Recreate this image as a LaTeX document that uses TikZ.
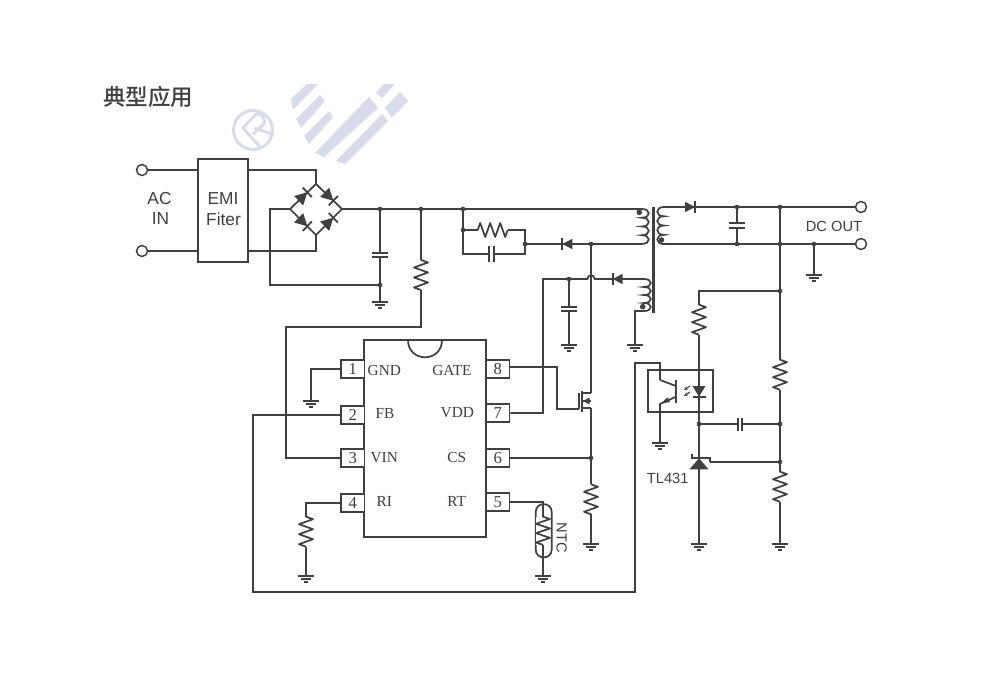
\documentclass[tikz,border=0pt]{standalone}
\usepackage{fontspec}
\setmainfont{Liberation Serif}
\newfontfamily\sansf{Liberation Sans}
\newfontfamily\cjkf{Noto Sans CJK SC Medium}
\usetikzlibrary{arrows.meta}
\definecolor{ink}{HTML}{404040}
\definecolor{wm}{HTML}{D8DBEA}
\tikzset{
  wire/.style={draw=ink,line width=1.3pt,line join=miter},
  term/.style={circle,draw=ink,line width=1.1pt,minimum size=8.25pt,inner sep=0pt,fill=white},
  pinbox/.style={draw=ink,line width=1.2pt,fill=white,minimum width=17.6pt,minimum height=13.5pt,inner sep=0pt,font=\fontsize{12.5}{14}\selectfont,text=ink},
  pinlabel/.style={inner sep=0pt,font=\fontsize{11.5}{13}\selectfont,text=ink},
  sanslabel/.style={inner sep=0pt,font=\sansf\fontsize{13}{15}\selectfont,text=ink},
  smalllabel/.style={inner sep=0pt,font=\sansf\fontsize{11}{13}\selectfont,text=ink},
  soft/.style={fill=wm,draw=none},
  pics/gnd/.style={code={
    \draw[draw=ink,line width=1.2pt] (-8,0)--(8,0) (-5,3)--(5,3) (-2,6)--(2,6);}},
  pics/resv/.style={code={
    \fill[white] (-7,-15) rectangle (7,15);
    \draw[wire,line join=round] (0,-15)--(7,-12.5)--(-7,-7.5)--(7,-2.5)--(-7,2.5)--(7,7.5)--(-7,12.5)--(0,15);}},
  pics/capv/.style={code={
    \fill[white] (-8,-2.3) rectangle (8,2.3);
    \draw[wire] (-8,-2.3)--(8,-2.3) (-8,2.3)--(8,2.3);}},
  pics/diode/.style={code={
    \fill[ink] (-5,-5.2)--(5,0)--(-5,5.2)--cycle;
    \draw[wire] (5,-6)--(5,6);}},
  pics/bdiode/.style={code={
    \fill[ink] (-6,-6.5)--(6,0)--(-6,6.5)--cycle;
    \draw[wire] (6,-6.5)--(6,6.5);}},
  pics/coil/.style={code={
    \draw[wire] (0,0) .. controls (9,0) and (9,9) .. (0,9)
      .. controls (9,9) and (9,18) .. (0,18)
      .. controls (9,18) and (9,27) .. (0,27)
      .. controls (9,27) and (9,36) .. (0,36);}},
}
\newcommand{\jdot}[1]{\fill[ink] (#1) circle[radius=2.3];}
\begin{document}
\begin{tikzpicture}[x=0.75pt,y=-0.75pt]
\useasboundingbox (0,0) rectangle (1000,700);
\fill[white] (0,0) rectangle (1000,700);

% watermark
\fill[soft] (291,99)--(307,84)--(318,84)--(293,110)--cycle;
\fill[soft] (296,119)--(320,95)--(325,101)--(301,128)--cycle;
\fill[soft] (304,136)--(329,111)--(333,117)--(309,144)--cycle;
\fill[soft] (315,153)--(369,97)--(378,108)--(324,157)--cycle;
\fill[soft] (336,161)--(382,114)--(388,121)--(345,164)--cycle;
\fill[soft] (376,93)--(384,84)--(395,84)--(382,98)--cycle;
\fill[soft] (385,108)--(400,92)--(408,101)--(392,118)--cycle;
\draw[wm,line width=2.2pt] (253,130) circle[radius=19.5];
\draw[wm,line width=2.2pt,line join=round] (260,147)--(243,128)--(256,114) .. controls (262,112) and (266,120) .. (264,124)--(253,134);
\draw[wm,line width=2.2pt] (254,128)--(272,134);

% title
\node[inner sep=0pt,anchor=west,text=ink,font=\cjkf\fontsize{16.9}{19}\selectfont] (title) at (103,97) {典型应用};

% IC
\draw[wire,fill=white] (364,340) rectangle (486,537);
\draw[wire] (408,340) .. controls (408,363) and (442,363) .. (442,340);
\node[pinbox] (p1) at (352.8,369) {1};
\node[pinbox] (p2) at (352.8,415) {2};
\node[pinbox] (p3) at (352.8,458) {3};
\node[pinbox] (p4) at (352.8,503) {4};
\node[pinbox] (p8) at (497.8,369) {8};
\node[pinbox] (p7) at (497.8,413) {7};
\node[pinbox] (p6) at (497.8,458) {6};
\node[pinbox] (p5) at (497.8,502) {5};
\node[pinlabel] (lGnd) at (384.3,370) {GND};
\node[pinlabel] (lFb) at (385,413.3) {FB};
\node[pinlabel] (lVin) at (384.3,457.3) {VIN};
\node[pinlabel] (lRi) at (384.3,501.7) {RI};
\node[pinlabel] (lGate) at (452,370) {GATE};
\node[pinlabel] (lVdd) at (457.3,412.3) {VDD};
\node[pinlabel] (lCs) at (456.7,457.7) {CS};
\node[pinlabel] (lRt) at (456.7,501) {RT};

% input and EMI filter
\node[term] (acTop) at (142,170) {};
\node[term] (acBot) at (142,251) {};
\coordinate (eT) at (198,170); \coordinate (eTr) at (248,170);
\coordinate (eB) at (198,251); \coordinate (eBr) at (248,251);
\draw[wire] (198,159) rectangle (248,262);
\node[sanslabel] (acA) at (159.5,198.3) {AC};
\node[sanslabel] (acB) at (160.5,219) {IN};
\node[sanslabel] (emiA) at (223,198.3) {EMI};
\node[sanslabel] (emiB) at (223.5,219.3) {Fiter};
\draw[wire] (acTop) -- (eT);
\draw[wire] (acBot) -- (eB);

% bridge
\coordinate (bT) at (316,184); \coordinate (bR) at (342,209);
\coordinate (bB) at (316,235); \coordinate (bL) at (290,209);
\coordinate (bLo) at (270,285);
\coordinate (capN) at (380,285);
\draw[wire] (bL)--(bT)--(bR)--(bB)--cycle;
\draw[wire] (eTr) -| (bT);
\draw[wire] (eBr) -| (bB);
\draw[wire] (bL) -| (bLo) -- (capN);
\path (303,196.5) pic[rotate=44]{bdiode};
\path (329,196.5) pic[rotate=-44]{bdiode};
\path (303,222) pic[rotate=-44]{bdiode};
\path (329,222) pic[rotate=44]{bdiode};

% main rail
\coordinate (n380) at (380,209); \coordinate (n421) at (421,209);
\coordinate (n463) at (463,209); \coordinate (priT) at (642,209);
\coordinate (gndA) at (380,302);
\draw[wire] (bR) -- (n380) -- (n421) -- (n463) -- (priT);
\draw[wire] (n380) -- (gndA);
\path (380,255) pic{capv};
\path (gndA) pic{gnd};
\jdot{n380}\jdot{n421}\jdot{n463}\jdot{capN}

% startup resistor to VIN
\coordinate (vinB) at (421,327);
\draw[wire] (n421) -- (vinB) -| (286,458) -- (p3.west);
\path (421,275) pic{resv};

% snubber
\coordinate (snA) at (463,230); \coordinate (snB) at (525,230);
\coordinate (snC) at (525,244); \coordinate (snD) at (463,254);
\coordinate (priB) at (642,244); \coordinate (n591) at (591,244);
\draw[wire] (n463) -- (snD) -| (snC);
\draw[wire] (snA) -- (snB) -- (snC);
\path (492.7,230) pic[rotate=90]{resv};
\fill[white] (489.3,247) rectangle (494,261);
\draw[wire] (489.3,246.3)--(489.3,261.7) (494,246.3)--(494,261.7);
\draw[wire] (snC) -- (n591) -- (priB);
\path (567.3,244) pic[rotate=180]{diode};
\jdot{snA}\jdot{snC}\jdot{n591}

% transformer
\draw[draw=ink,line width=2.3pt] (653.3,206.7)--(653.3,313.3);
\path (priT) pic[yscale=0.97]{coil};
\fill[ink] (639.3,212.3) circle[radius=2.8];
\path (664,207) pic[xscale=-1,yscale=1.03]{coil};
\fill[ink] (661.5,240) circle[radius=2.8];
\path (644,279) pic[yscale=0.89]{coil};
\fill[ink] (642.7,306.7) circle[radius=2.8];

% aux winding and VDD
\coordinate (vddT) at (543,279); \coordinate (n569) at (569,279);
\coordinate (auxT) at (644,279); \coordinate (auxB) at (644,311);
\coordinate (gndC) at (569,345); \coordinate (gndD) at (635,345);
\draw[wire] (p7.east) -| (vddT) -- (n569) -- (587.3,279) .. controls (588,274) and (594,274) .. (594.7,279) -- (auxT);
\draw[wire] (n569) -- (gndC);
\draw[wire] (auxB) -| (gndD);
\path (569,309) pic{capv};
\path (617.7,279) pic[rotate=180]{diode};
\path (gndC) pic{gnd};
\path (gndD) pic{gnd};
\jdot{n569}

% secondary
\coordinate (secT) at (664,207); \coordinate (secB) at (664,244);
\coordinate (n737t) at (737,207); \coordinate (n737b) at (737,244);
\coordinate (n780t) at (780,207); \coordinate (n780b) at (780,244);
\coordinate (n814) at (814,244); \coordinate (gndE) at (814,275);
\node[term] (dcT) at (861,207) {};
\node[term] (dcB) at (861,244) {};
\draw[wire] (secT) -- (dcT.west);
\draw[wire] (secB) -- (dcB.west);
\draw[wire] (n737t) -- (n737b);
\path (737,225.5) pic{capv};
\path (690,207) pic{diode};
\draw[wire] (n814) -- (gndE);
\path (gndE) pic{gnd};
\node[smalllabel] (dcL) at (834,226) {DC OUT};
\jdot{n737t}\jdot{n737b}\jdot{n780t}\jdot{n780b}\jdot{n814}

% feedback divider
\coordinate (n780a) at (780,291); \coordinate (n780c) at (780,424);
\coordinate (n780d) at (780,462); \coordinate (gndF) at (780,544);
\draw[wire] (n780t) -- (gndF);
\path (780,374.7) pic{resv};
\path (780,486.7) pic{resv};
\path (gndF) pic{gnd};
\jdot{n780a}\jdot{n780c}\jdot{n780d}

% opto and TL431 branch
\coordinate (x699t) at (699,291); \coordinate (n699c) at (699,424);
\coordinate (gndG) at (699,544);
\draw[wire] (n780a) -- (x699t) -- (gndG);
\path (699,319.7) pic{resv};
\draw[wire] (648,370) rectangle (713,412);
% LED
\fill[ink] (692.5,386)--(705.5,386)--(699,396.7)--cycle;
\draw[wire] (692.5,397)--(705.5,397);
\draw[ink,line width=0.8pt,-{Stealth[length=3pt,width=2.8pt]}] (690,386)--(684,390);
\draw[ink,line width=0.8pt,-{Stealth[length=3pt,width=2.8pt]}] (690,392)--(684,396);
% opto transistor
\coordinate (optoC) at (660,380); \coordinate (optoE) at (660,404);
\coordinate (gndH) at (660,443);
\draw[wire] (676,380)--(676,403);
\draw[wire] (optoC)--(676,386);
\draw[wire] (676,396.7)--(optoE)--(gndH);
\fill[ink] (661,403.5)--(667.5,397.3)--(670,402)--cycle;
\path (gndH) pic{gnd};
% comp cap
\draw[wire] (n699c) -- (n780c);
\fill[white] (738.3,418) rectangle (741.7,431);
\draw[wire] (738.3,418)--(738.3,431) (741.7,418)--(741.7,431);
\jdot{n699c}
% TL431
\fill[ink] (699,458.3)--(708.5,469.3)--(689.5,469.3)--cycle;
\draw[wire] (691.7,454)--(691.7,458)--(710,458)--(710,462);
\draw[wire] (710,462)--(n780d);
\node[smalllabel] (tl) at (667.7,478.3) {TL431};
\path (gndG) pic{gnd};

% pin 1
\coordinate (gndI) at (311,401);
\draw[wire] (p1.west) -| (gndI);
\path (gndI) pic{gnd};
% pin 2 feedback
\coordinate (fbA) at (253,592); \coordinate (fbB) at (635,592);
\coordinate (fbC) at (635,363);
\draw[wire] (p2.west) -| (fbA) -- (fbB) -- (fbC) -| (optoC);
% pin 4
\coordinate (gndJ) at (306,576);
\draw[wire] (p4.west) -| (gndJ);
\path (306,531.7) pic{resv};
\path (gndJ) pic{gnd};

% MOSFET
\coordinate (gateX) at (557,409); \coordinate (gateI) at (579,409);
\coordinate (drain) at (591,393); \coordinate (source) at (591,408);
\coordinate (n458) at (591,458); \coordinate (gndK) at (591,544);
\draw[wire] ([yshift=1.5pt]p8.east) -| (gateX) -- (gateI);
\draw[wire] (579,393)--(gateI);
\draw[wire] (582,390.7)--(582,412.3);
\draw[wire] (582,393)--(drain);
\draw[wire] (582,408)--(source);
\draw[wire] (582,401)--(591,401);
\fill[ink] (583,401)--(589.5,397.5)--(589.5,404.5)--cycle;
\draw[wire] (n591)--(drain);
\draw[wire] (source)--(gndK);
\draw[wire] (p6.east)--(n458);
\path (591,499.3) pic{resv};
\path (gndK) pic{gnd};
\jdot{n458}

% NTC
\coordinate (ntcT) at (543,502); \coordinate (gndL) at (543,576);
\draw[wire] (p5.east) -- (ntcT) -- (gndL);
\draw[wire] (535.7,512) .. controls (535.7,501.5) and (551.7,501.5) .. (551.7,512) -- (551.7,549.5) .. controls (551.7,560) and (535.7,560) .. (535.7,549.5) -- cycle;
\path (543,530.8) pic[yscale=0.94]{resv};
\path (gndL) pic{gnd};
\node[smalllabel,rotate=-90] (ntcL) at (561.7,537.7) {NTC};
\end{tikzpicture}
\end{document}
